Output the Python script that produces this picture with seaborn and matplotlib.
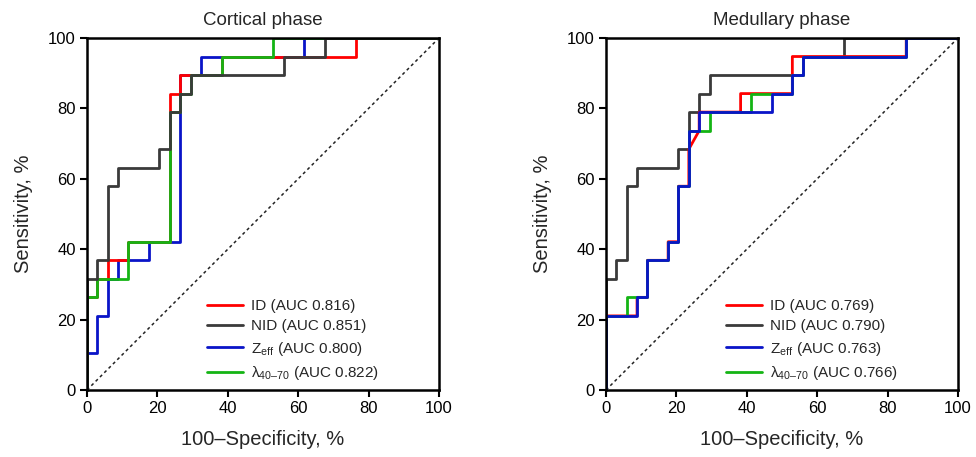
import matplotlib
matplotlib.use("Agg")
import matplotlib.pyplot as plt
import seaborn as sns
import pandas as pd

# ---------------- data (percent) ----------------
# Cortical phase
cort_id_fpr = [0, 0, 2.94, 2.94, 5.88, 5.88, 11.76, 11.76, 23.53, 23.53, 26.47, 26.47, 38.24, 38.24, 76.47, 76.47, 100]
cort_id_tpr = [0, 26.32, 26.32, 31.58, 31.58, 36.84, 36.84, 42.11, 42.11, 84.21, 84.21, 89.47, 89.47, 94.74, 94.74, 100, 100]

cort_nid_fpr = [0, 0, 2.94, 2.94, 5.88, 5.88, 8.82, 8.82, 20.59, 20.59, 23.53, 23.53, 26.47, 26.47, 29.41, 29.41, 55.88, 55.88, 67.65, 67.65, 100]
cort_nid_tpr = [0, 31.58, 31.58, 36.84, 36.84, 57.89, 57.89, 63.16, 63.16, 68.42, 68.42, 78.95, 78.95, 84.21, 84.21, 89.47, 89.47, 94.74, 94.74, 100, 100]

cort_zeff_fpr = [0, 0, 2.94, 2.94, 5.88, 5.88, 8.82, 8.82, 17.65, 17.65, 26.47, 26.47, 32.35, 32.35, 61.76, 61.76, 100]
cort_zeff_tpr = [0, 10.53, 10.53, 21.05, 21.05, 31.58, 31.58, 36.84, 36.84, 42.11, 42.11, 89.47, 89.47, 94.74, 94.74, 100, 100]

cort_lam_fpr = [0, 0, 2.94, 2.94, 11.76, 11.76, 23.53, 23.53, 26.47, 26.47, 29.41, 29.41, 38.24, 38.24, 52.94, 52.94, 100]
cort_lam_tpr = [0, 26.32, 26.32, 31.58, 31.58, 42.11, 42.11, 78.95, 78.95, 84.21, 84.21, 89.47, 89.47, 94.74, 94.74, 100, 100]

# Medullary phase
med_id_fpr = [0, 0, 8.82, 8.82, 11.76, 11.76, 17.65, 17.65, 20.59, 20.59, 23.53, 23.53, 26.47, 26.47, 38.24, 38.24, 52.94, 52.94, 85.29, 85.29, 100]
med_id_tpr = [0, 21.05, 21.05, 26.32, 26.32, 36.84, 36.84, 42.11, 42.11, 57.89, 57.89, 68.42, 73.68, 78.95, 78.95, 84.21, 84.21, 94.74, 94.74, 100, 100]

med_nid_fpr = [0, 0, 2.94, 2.94, 5.88, 5.88, 8.82, 8.82, 20.59, 20.59, 23.53, 23.53, 26.47, 26.47, 29.41, 29.41, 55.88, 55.88, 67.65, 67.65, 100]
med_nid_tpr = [0, 31.58, 31.58, 36.84, 36.84, 57.89, 57.89, 63.16, 63.16, 68.42, 68.42, 78.95, 78.95, 84.21, 84.21, 89.47, 89.47, 94.74, 94.74, 100, 100]

med_zeff_fpr = [0, 0, 8.82, 8.82, 11.76, 11.76, 17.65, 17.65, 20.59, 20.59, 23.53, 23.53, 26.47, 26.47, 47.06, 47.06, 52.94, 52.94, 55.88, 55.88, 85.29, 85.29, 100]
med_zeff_tpr = [0, 21.05, 21.05, 26.32, 26.32, 36.84, 36.84, 42.11, 42.11, 57.89, 57.89, 73.68, 73.68, 78.95, 78.95, 84.21, 84.21, 89.47, 89.47, 94.74, 94.74, 100, 100]

med_lam_fpr = [0, 0, 5.88, 5.88, 11.76, 11.76, 17.65, 17.65, 20.59, 20.59, 23.53, 23.53, 29.41, 29.41, 41.18, 41.18, 52.94, 52.94, 55.88, 55.88, 85.29, 85.29, 100]
med_lam_tpr = [0, 21.05, 21.05, 26.32, 26.32, 36.84, 36.84, 42.11, 42.11, 57.89, 57.89, 73.68, 73.68, 78.95, 78.95, 84.21, 84.21, 89.47, 89.47, 94.74, 94.74, 100, 100]

titles = ["Cortical phase", "Medullary phase"]
cort_labels = ["ID (AUC 0.816)", "NID (AUC 0.851)",
               "Z$_\\mathregular{eff}$ (AUC 0.800)", "λ$_\\mathregular{40–70}$ (AUC 0.822)"]
med_labels = ["ID (AUC 0.769)", "NID (AUC 0.790)",
              "Z$_\\mathregular{eff}$ (AUC 0.763)", "λ$_\\mathregular{40–70}$ (AUC 0.766)"]
ticks = [0, 20, 40, 60, 80, 100]

# ---------------- style ----------------
sns.set_style("ticks")
plt.rcParams["font.family"] = ["Liberation Sans", "DejaVu Sans"]
plt.rcParams["mathtext.fontset"] = "custom"
plt.rcParams["mathtext.rm"] = "Liberation Sans"
plt.rcParams["axes.linewidth"] = 1.6

colors = {"ID": "#ff0000", "NID": "#3a3a3a", "Zeff": "#0a14c8", "LAM": "#14b414"}
keys = ["ID", "NID", "Zeff", "LAM"]

fig = plt.figure(figsize=(9.76, 4.57), dpi=100)
W, H = 976, 457
axL = fig.add_axes([87 / W, (H - 390) / H, 352 / W, 352 / H])
axR = fig.add_axes([606 / W, (H - 390) / H, 352 / W, 352 / H])

panels = [
    (axL, titles[0], cort_labels,
     {"ID": (cort_id_fpr, cort_id_tpr), "NID": (cort_nid_fpr, cort_nid_tpr),
      "Zeff": (cort_zeff_fpr, cort_zeff_tpr), "LAM": (cort_lam_fpr, cort_lam_tpr)},
     ["Zeff", "ID", "LAM", "NID"]),
    (axR, titles[1], med_labels,
     {"ID": (med_id_fpr, med_id_tpr), "NID": (med_nid_fpr, med_nid_tpr),
      "Zeff": (med_zeff_fpr, med_zeff_tpr), "LAM": (med_lam_fpr, med_lam_tpr)},
     ["NID", "ID", "LAM", "Zeff"]),
]

for ax, title, labels, curves, order in panels:
    ax.axline((0, 0), slope=1, color="#222222", lw=1.1, ls=(0, (2, 2)), zorder=1)
    handles = {}
    for z, k in enumerate(order):
        fpr, tpr = curves[k]
        df = pd.DataFrame({"fpr": fpr, "tpr": tpr})
        n_before = len(ax.lines)
        sns.lineplot(data=df, x="fpr", y="tpr", sort=False, estimator=None,
                     color=colors[k], lw=2.0, ax=ax, zorder=2 + z)
        handles[k] = ax.lines[n_before]
    ax.set_xlim(0, 100)
    ax.set_ylim(0, 100)
    ax.set_xticks(ticks)
    ax.set_yticks(ticks)
    ax.tick_params(axis="both", direction="out", length=5, width=1.5,
                   labelsize=12, pad=3, colors="black")
    for s in ax.spines.values():
        s.set_visible(True)
        s.set_linewidth(1.8)
        s.set_color("black")
        s.set_zorder(10)
    ax.set_title(title, fontsize=13.5, pad=9.5)
    ax.set_xlabel("100–Specificity, %", fontsize=14.5, labelpad=10)
    ax.set_ylabel("Sensitivity, %", fontsize=14.5, labelpad=11)
    leg = ax.legend([handles[k] for k in keys], labels, loc="lower left",
                    bbox_to_anchor=(0.31, -0.008), frameon=False, fontsize=11,
                    handlelength=2.4, handletextpad=0.5, labelspacing=0.42,
                    borderpad=0.2)
    for lh in leg.get_lines():
        lh.set_linewidth(2.0)

fig.savefig("out.png", dpi=100)
